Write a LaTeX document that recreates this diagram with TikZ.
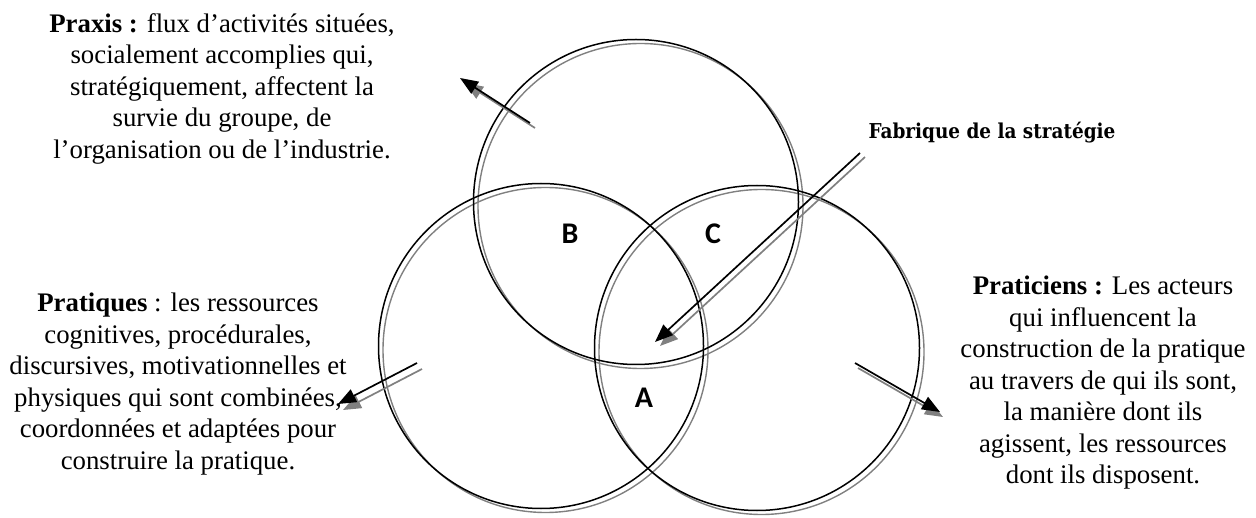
\documentclass[tikz,border=0pt]{standalone}
\usepackage{fontspec}
\setmainfont{Liberation Serif}
\newfontfamily\labfont{Carlito}
\newfontfamily\fabfont{DejaVuSerifCondensed-Bold}[Extension=.ttf]
\usetikzlibrary{arrows.meta}
\definecolor{shade}{gray}{0.5}
\tikzset{
  ring/.style={circle, draw=black, line width=1.5pt, minimum size=325pt, inner sep=0pt},
  ringshadow/.style={circle, draw=shade, line width=1.4pt, minimum size=325pt, inner sep=0pt},
  arr/.style={draw=black, line width=1.7pt, -{Triangle[length=18pt,width=14pt]}},
  arrshadow/.style={draw=shade, line width=1.7pt, -{Triangle[length=18pt,width=14pt]}},
  desc/.style={align=center, inner sep=0pt, anchor=north, font=\fontsize{26.8}{31.5}\selectfont},
  zone/.style={font=\labfont\bfseries\fontsize{30}{36}\selectfont, inner sep=0pt},
  fab/.style={font=\fabfont\fontsize{20.5}{24}\selectfont, inner sep=0pt, anchor=base},
}
\begin{document}
\begin{tikzpicture}[x=1pt,y=-1pt]
\useasboundingbox (0,0) rectangle (1256,518);
% shadows of the circles
\node[ringshadow] (tops) at (640.5,206) {};
\node[ringshadow] (lefts) at (545.5,350) {};
\node[ringshadow] (rights) at (761.5,352) {};
% circles
\node[ring] (top) at (636,202) {};
\node[ring] (left) at (541,346) {};
\node[ring] (right) at (757,348) {};
% zone labels
\node[zone] (B) at (570,234) {B};
\node[zone] (C) at (713,234) {C};
\node[zone] (A) at (644,398) {A};
% texts
\node[desc] (praxis) at (222,13) {\textbf{Praxis :} flux d’activités situées,\\socialement accomplies qui,\\stratégiquement, affectent la\\survie du groupe, de\\l’organisation ou de l’industrie.};
\node[desc] (pratiques) at (178,293) {\textbf{Pratiques} : les ressources\\cognitives, procédurales,\\discursives, motivationnelles et\\physiques qui sont combinées,\\coordonnées et adaptées pour\\construire la pratique.};
\node[desc] (praticiens) at (1103,276) {\textbf{Praticiens :} Les acteurs\\qui influencent la\\construction de la pratique\\au travers de qui ils sont,\\la manière dont ils\\agissent, les ressources\\dont ils disposent.};
\node[fab] (fabrique) at (992,139) {Fabrique de la stratégie};
% arrow end points
\coordinate (praxT) at (530,123);
\coordinate (praxH) at (460,78);
\coordinate (fabT) at (860,153);
\coordinate (fabH) at (655,342);
\coordinate (pratT) at (417,363);
\coordinate (pratH) at (338,404);
\coordinate (pracT) at (855,363);
\coordinate (pracH) at (940,412);
% arrow shadows
\draw[arrshadow] ([shift={(5,5)}]praxT) -- ([shift={(5,5)}]praxH);
\draw[arrshadow] ([shift={(5,4)}]fabT) -- ([shift={(5,4)}]fabH);
\draw[arrshadow] ([shift={(5,6)}]pratT) -- ([shift={(5,6)}]pratH);
\draw[arrshadow] ([shift={(3,5)}]pracT) -- ([shift={(3,5)}]pracH);
% arrows
\draw[arr] (praxT) -- (praxH);
\draw[arr] (fabT) -- (fabH);
\draw[arr] (pratT) -- (pratH);
\draw[arr] (pracT) -- (pracH);
\end{tikzpicture}
\end{document}
